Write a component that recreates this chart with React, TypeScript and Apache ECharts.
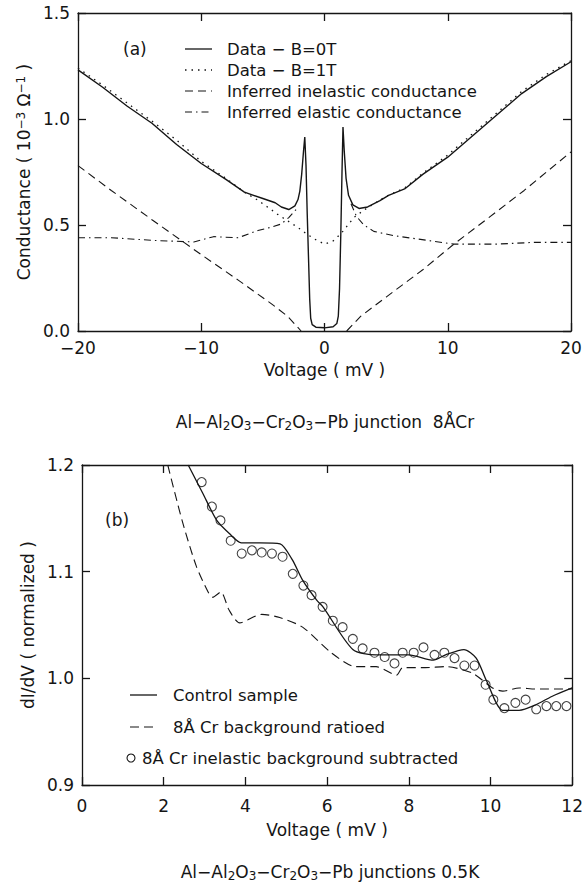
import React, { useEffect, useRef } from 'react';
import * as echarts from 'echarts';

const FONT = 'DejaVu Sans';
const INK = '#151515';

// ---------- Panel (a): conductance vs voltage ----------
const aTicksX = [-20, -10, 0, 10, 20];
const aB0V = [-20, -18, -16, -14, -12, -10, -8, -6.5, -5, -4, -3.5, -2.9, -2.4, -2.15, -2.0, -1.85, -1.7, -1.6, -1.5, -1.4, -1.3, -1.2, -1.12, -1.0, -0.7, 0, 0.7, 1.0, 1.12, 1.22, 1.32, 1.42, 1.5, 1.6, 1.75, 1.95, 2.3, 2.8, 3.5, 4.5, 5.2, 6.5, 8, 10, 12, 14, 16, 18, 20];
const aB0G = [1.232, 1.15, 1.06, 0.98, 0.88, 0.79, 0.715, 0.655, 0.625, 0.605, 0.585, 0.573, 0.59, 0.62, 0.66, 0.74, 0.85, 0.915, 0.78, 0.55, 0.35, 0.15, 0.06, 0.03, 0.018, 0.015, 0.02, 0.035, 0.07, 0.2, 0.45, 0.75, 0.962, 0.85, 0.72, 0.64, 0.595, 0.578, 0.585, 0.615, 0.64, 0.67, 0.74, 0.82, 0.92, 1.02, 1.12, 1.2, 1.27];

const aB1V = [-20, -18, -16, -14, -12, -10, -8, -6.5, -5.5, -4.5, -3.8, -3, -2.2, -1.5, -0.85, 0, 0.7, 1.35, 2.4, 3.2, 4, 5, 6.5, 8, 10, 12, 14, 16, 18, 20];
const aB1G = [1.24, 1.16, 1.075, 0.99, 0.9, 0.8, 0.72, 0.655, 0.62, 0.58, 0.55, 0.52, 0.49, 0.46, 0.435, 0.41, 0.425, 0.46, 0.536, 0.57, 0.6, 0.635, 0.675, 0.745, 0.83, 0.93, 1.03, 1.13, 1.21, 1.275];

const aInelLeftV = [-20, -17.3, -14, -10, -7, -4.3, -3, -1.9];
const aInelLeftG = [0.78, 0.663, 0.525, 0.36, 0.24, 0.128, 0.07, 0];
const aInelRightV = [1.8, 2.95, 5, 8, 10.5, 13, 16.2, 20];
const aInelRightG = [0, 0.07, 0.16, 0.29, 0.41, 0.52, 0.663, 0.845];

const aElLeftV = [-20, -17.3, -13.8, -10.6, -9, -7, -5.4, -4.3, -3.5, -2.9, -2.2];
const aElLeftG = [0.44, 0.44, 0.427, 0.42, 0.445, 0.44, 0.474, 0.49, 0.505, 0.535, 0.58];
const aElRightV = [2.15, 2.6, 3.2, 4, 5.6, 8.4, 10.5, 14, 17, 20];
const aElRightG = [0.6, 0.54, 0.5, 0.47, 0.45, 0.427, 0.41, 0.41, 0.418, 0.418];

// ---------- Panel (b): normalized dI/dV ----------
const bCtrlV = [2.6, 2.95, 3.3, 3.6, 3.9, 4.35, 4.85, 5.15, 5.4, 5.75, 5.9, 6.63, 7.2, 8.0, 8.6, 8.9, 9.35, 9.65, 9.9, 10.3, 10.7, 11.1, 11.5, 12];
const bCtrlG = [1.2, 1.174, 1.148, 1.136, 1.127, 1.127, 1.126, 1.111, 1.092, 1.073, 1.067, 1.027, 1.022, 1.022, 1.017, 1.022, 1.027, 1.019, 0.998, 0.97, 0.97, 0.975, 0.983, 0.991];

const bRatioV = [2.1, 2.45, 2.8, 3.1, 3.2, 3.4, 3.6, 3.86, 4.4, 4.84, 5.4, 6.1, 6.7, 7.2, 7.7, 7.85, 8.4, 8.9, 9.55, 10.05, 10.3, 10.7, 11.1, 12];
const bRatioG = [1.2, 1.148, 1.105, 1.08, 1.076, 1.081, 1.064, 1.052, 1.06, 1.057, 1.048, 1.024, 1.011, 1.011, 1.003, 1.01, 1.01, 1.011, 1.005, 0.991, 0.988, 0.991, 0.99, 0.99];

const bSubV = [2.93, 3.18, 3.39, 3.64, 3.91, 4.16, 4.4, 4.65, 4.91, 5.16, 5.42, 5.62, 5.89, 6.14, 6.38, 6.63, 6.87, 7.16, 7.41, 7.65, 7.85, 8.12, 8.36, 8.63, 8.87, 9.12, 9.36, 9.61, 9.88, 10.07, 10.34, 10.61, 10.86, 11.12, 11.37, 11.61, 11.86];
const bSubG = [1.184, 1.161, 1.148, 1.129, 1.117, 1.12, 1.118, 1.117, 1.114, 1.098, 1.087, 1.078, 1.067, 1.054, 1.048, 1.037, 1.028, 1.024, 1.02, 1.014, 1.024, 1.024, 1.029, 1.022, 1.024, 1.019, 1.012, 1.012, 0.994, 0.98, 0.972, 0.977, 0.98, 0.971, 0.974, 0.974, 0.974];

const zip = (xs: number[], ys: number[]) => xs.map((x, i) => [x, ys[i]]);

const textBase = { fontFamily: FONT, fontSize: 17, color: INK };

function makeAxis(gridIndex: number, position: string, min: number, max: number, interval: number, showLabels: boolean, fmt: (v: number) => string) {
  return {
    type: 'value',
    gridIndex,
    position,
    min,
    max,
    interval,
    axisLine: { show: true, onZero: false, lineStyle: { color: INK, width: 1.3 } },
    axisTick: { show: true, inside: true, length: 8, lineStyle: { color: INK, width: 1.3 } },
    splitLine: { show: false },
    axisLabel: { show: showLabels, formatter: fmt, ...textBase },
  };
}

const minusFmt = (v: number) => String(v).replace('-', '\u2212');
const oneDec = (v: number) => v.toFixed(1);

function gfx(size: number) {
  return { fontFamily: FONT, fontSize: size, fill: INK };
}

export default function App() {
  const ref = useRef<HTMLDivElement>(null);
  useEffect(() => {
    if (!ref.current) return;
    const chart = echarts.init(ref.current, undefined, { renderer: 'svg' });
    const dashLine = (type: any, width = 1.1) => ({ color: INK, width, type });
    const xa0 = makeAxis(0, 'bottom', aTicksX[0], aTicksX[aTicksX.length - 1], 10, true, minusFmt) as any;
    xa0.axisLabel.margin = 8;
    xa0.name = 'Voltage ( mV )';
    xa0.nameLocation = 'middle';
    xa0.nameGap = 30;
    xa0.nameTextStyle = { ...textBase };
    const xa2 = makeAxis(1, 'bottom', 0, 12, 2, true, (v) => String(v)) as any;
    xa2.axisLabel.margin = 12;
    xa2.name = 'Voltage ( mV )';
    xa2.nameLocation = 'middle';
    xa2.nameGap = 36;
    xa2.nameTextStyle = { ...textBase };
    const ya0 = makeAxis(0, 'left', 0, 1.5, 0.5, true, oneDec) as any;
    ya0.axisLabel.margin = 8;
    ya0.name = 'Conductance ( 10{sup|\u22123} \u03A9{sup|\u22121} )';
    ya0.nameLocation = 'middle';
    ya0.nameGap = 46;
    ya0.nameRotate = 90;
    ya0.nameTextStyle = { ...textBase, rich: { sup: { fontFamily: FONT, fontSize: 12, color: INK, verticalAlign: 'top' } } };
    const ya2 = makeAxis(1, 'left', 0.9, 1.2, 0.1, true, oneDec) as any;
    ya2.axisLabel.margin = 8;
    ya2.name = 'dI/dV ( normalized )';
    ya2.nameLocation = 'middle';
    ya2.nameGap = 46;
    ya2.nameRotate = 90;
    ya2.nameTextStyle = { ...textBase };

    const subRich = { s: { fontFamily: FONT, fontSize: 12, fill: INK, verticalAlign: 'bottom', padding: [8, 0, 0, 0] } };

    const option: any = {
      animation: false,
      backgroundColor: '#ffffff',
      grid: [
        { left: 78, top: 13, width: 493, height: 318 },
        { left: 82, top: 465, width: 491, height: 320 },
      ],
      xAxis: [
        xa0,
        makeAxis(0, 'top', -20, 20, 10, false, minusFmt),
        xa2,
        makeAxis(1, 'top', 0, 12, 2, false, (v) => String(v)),
      ],
      yAxis: [
        ya0,
        makeAxis(0, 'right', 0, 1.5, 0.5, false, oneDec),
        ya2,
        makeAxis(1, 'right', 0.9, 1.2, 0.1, false, oneDec),
      ],
      series: [
        { name: 'Data - B=0T', type: 'line', xAxisIndex: 0, yAxisIndex: 0, data: zip(aB0V, aB0G), showSymbol: false, lineStyle: dashLine('solid', 1.4) },
        { name: 'Data - B=1T', type: 'line', xAxisIndex: 0, yAxisIndex: 0, data: zip(aB1V, aB1G), showSymbol: false, lineStyle: dashLine([1.5, 5], 1.3) },
        { name: 'Inferred inelastic conductance', type: 'line', xAxisIndex: 0, yAxisIndex: 0, data: zip(aInelLeftV, aInelLeftG), showSymbol: false, lineStyle: dashLine([8, 5]) },
        { name: 'Inferred inelastic conductance', type: 'line', xAxisIndex: 0, yAxisIndex: 0, data: zip(aInelRightV, aInelRightG), showSymbol: false, lineStyle: dashLine([8, 5]) },
        { name: 'Inferred elastic conductance', type: 'line', xAxisIndex: 0, yAxisIndex: 0, data: zip(aElLeftV, aElLeftG), showSymbol: false, lineStyle: dashLine([7, 4, 1.5, 4]) },
        { name: 'Inferred elastic conductance', type: 'line', xAxisIndex: 0, yAxisIndex: 0, data: zip(aElRightV, aElRightG), showSymbol: false, lineStyle: dashLine([7, 4, 1.5, 4]) },
        { name: 'Control sample', type: 'line', xAxisIndex: 2, yAxisIndex: 2, data: zip(bCtrlV, bCtrlG), smooth: 0.25, showSymbol: false, lineStyle: dashLine('solid', 1.3) },
        { name: '8Å Cr background ratioed', type: 'line', xAxisIndex: 2, yAxisIndex: 2, data: zip(bRatioV, bRatioG), smooth: 0.25, showSymbol: false, lineStyle: dashLine([9, 5]) },
        { name: '8Å Cr inelastic background subtracted', type: 'scatter', xAxisIndex: 2, yAxisIndex: 2, data: zip(bSubV, bSubG), symbol: 'circle', symbolSize: 9, itemStyle: { color: 'rgba(0,0,0,0)', borderColor: INK, borderWidth: 1.1 } },
      ],
      graphic: [
        // panel (a) label and legend
        { type: 'text', x: 123, y: 49, style: { text: '(a)', ...gfx(17), verticalAlign: 'middle' } },
        { type: 'line', shape: { x1: 185, y1: 49, x2: 212, y2: 49 }, style: { stroke: INK, lineWidth: 1.3 } },
        { type: 'line', shape: { x1: 185, y1: 70, x2: 212, y2: 70 }, style: { stroke: INK, lineWidth: 1.3, lineDash: [1.5, 5] } },
        { type: 'line', shape: { x1: 185, y1: 91, x2: 212, y2: 91 }, style: { stroke: INK, lineWidth: 1.1, lineDash: [8, 5] } },
        { type: 'line', shape: { x1: 185, y1: 112, x2: 212, y2: 112 }, style: { stroke: INK, lineWidth: 1.1, lineDash: [7, 4, 1.5, 4] } },
        { type: 'text', x: 227, y: 49, style: { text: 'Data \u2212 B=0T', ...gfx(16.5), verticalAlign: 'middle' } },
        { type: 'text', x: 227, y: 70, style: { text: 'Data \u2212 B=1T', ...gfx(16.5), verticalAlign: 'middle' } },
        { type: 'text', x: 227, y: 91, style: { text: 'Inferred inelastic conductance', ...gfx(16.5), verticalAlign: 'middle' } },
        { type: 'text', x: 227, y: 112, style: { text: 'Inferred elastic conductance', ...gfx(16.5), verticalAlign: 'middle' } },
        // caption (a)
        {
          type: 'text', x: 325, y: 422,
          style: {
            text: 'Al\u2212Al{s|2}O{s|3}\u2212Cr{s|2}O{s|3}\u2212Pb junction  8ÅCr',
            ...gfx(17), align: 'center', verticalAlign: 'middle',
            rich: subRich,
          },
        },
        // panel (b) label and legend
        { type: 'text', x: 105, y: 520, style: { text: '(b)', ...gfx(17), verticalAlign: 'middle' } },
        { type: 'line', shape: { x1: 130, y1: 695, x2: 157, y2: 695 }, style: { stroke: INK, lineWidth: 1.3 } },
        { type: 'line', shape: { x1: 130, y1: 727, x2: 157, y2: 727 }, style: { stroke: INK, lineWidth: 1.1, lineDash: [9, 5] } },
        { type: 'circle', shape: { cx: 131, cy: 758, r: 4 }, style: { stroke: INK, fill: 'none', lineWidth: 1.1 } },
        { type: 'text', x: 173, y: 695, style: { text: 'Control sample', ...gfx(16.5), verticalAlign: 'middle' } },
        { type: 'text', x: 173, y: 727, style: { text: '8Å Cr background ratioed', ...gfx(16.5), verticalAlign: 'middle' } },
        { type: 'text', x: 142, y: 758, style: { text: '8Å Cr inelastic background subtracted', ...gfx(16.5), verticalAlign: 'middle' } },
        // caption (b)
        {
          type: 'text', x: 330, y: 872,
          style: {
            text: 'Al\u2212Al{s|2}O{s|3}\u2212Cr{s|2}O{s|3}\u2212Pb junctions 0.5K',
            ...gfx(17), align: 'center', verticalAlign: 'middle',
            rich: subRich,
          },
        },
      ],
    };
    chart.setOption(option);
    return () => chart.dispose();
  }, []);
  return <div ref={ref} style={{ position: 'absolute', left: 0, top: 0, width: 586, height: 885, background: '#fff' }} />;
}
